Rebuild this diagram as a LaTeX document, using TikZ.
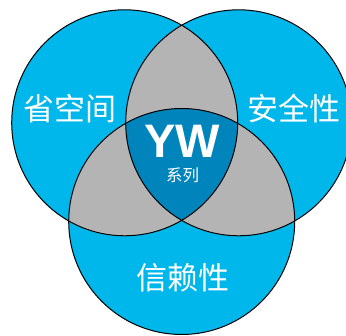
\documentclass[tikz,border=0pt]{standalone}
\usepackage{fontspec}
\setmainfont{Liberation Sans}
\newfontfamily\cjk{Noto Sans CJK SC}
\definecolor{vcyan}{RGB}{0,183,235}
\definecolor{vgray}{RGB}{180,180,180}
\definecolor{vdark}{RGB}{0,132,188}
\begin{document}
\begin{tikzpicture}[x=1pt,y=-1pt,
  ring/.style={draw=black,line width=1pt},
  lbl/.style={text=white,font=\cjk\fontsize{31}{31}\selectfont,inner sep=0pt}]
\useasboundingbox (0,0) rectangle (346,336);
\clip (0,0) rectangle (346,336);
\coordinate (A) at (124.7,122.8);
\coordinate (B) at (238.7,122.8);
\coordinate (C) at (181.7,221.5);
\def\R{113}
\fill[vcyan] (A) circle (\R) (B) circle (\R) (C) circle (\R);
\begin{scope}\clip (A) circle (\R); \fill[vgray] (B) circle (\R); \fill[vgray] (C) circle (\R); \end{scope}
\begin{scope}\clip (B) circle (\R); \fill[vgray] (C) circle (\R); \end{scope}
\begin{scope}\clip (A) circle (\R); \clip (B) circle (\R); \fill[vdark] (C) circle (\R); \end{scope}
\draw[ring] (A) circle (\R);
\draw[ring] (B) circle (\R);
\draw[ring] (C) circle (\R);
\node[lbl] (space) at (70,109) {省空间};
\node[lbl] (safe) at (294,109) {安全性};
\node[lbl] (trust) at (182.5,278) {信赖性};
\node[text=white,font=\bfseries\fontsize{47}{47}\selectfont,inner sep=0pt] (yw) at (182.5,141.5) {YW};
\node[text=white,font=\cjk\fontsize{16.5}{16.5}\selectfont,inner sep=0pt] (series) at (182.5,175) {系列};
\end{tikzpicture}
\end{document}
